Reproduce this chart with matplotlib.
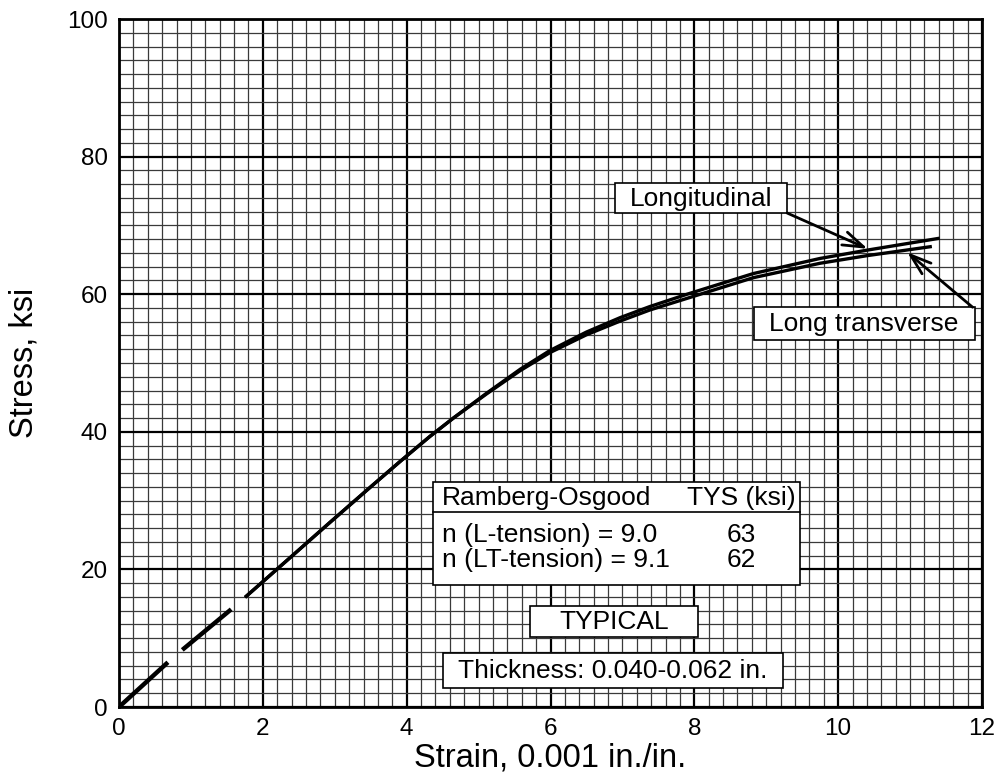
import numpy as np
import matplotlib
matplotlib.use("Agg")
import matplotlib.pyplot as plt
from matplotlib.patches import Rectangle

plt.rcParams['font.family'] = ['Liberation Sans', 'DejaVu Sans']

# ---- data ----
# dashed initial (elastic) portion, shared by both curves
dash_strain = [0.0, 0.68, np.nan, 0.88, 1.56]
dash_stress = [0.0, 6.5, np.nan, 8.3, 14.2]

# Longitudinal (upper curve)
L_strain = [1.77, 2.40, 2.93, 3.50, 3.91, 4.32, 4.65, 5.11, 5.58, 5.99, 6.50, 6.97, 7.38, 7.90, 8.82, 9.75, 10.40, 11.39]
L_stress = [16.1, 21.9, 26.8, 32.0, 35.7, 39.3, 42.0, 45.6, 49.1, 51.8, 54.5, 56.6, 58.2, 60.0, 63.0, 65.2, 66.4, 68.1]

# Long transverse (lower curve)
LT_strain = [1.77, 2.40, 2.93, 3.50, 3.91, 4.32, 4.65, 5.11, 5.58, 5.99, 6.50, 6.97, 7.38, 7.90, 8.82, 9.75, 10.40, 11.28]
LT_stress = [16.1, 21.9, 26.8, 32.0, 35.7, 39.3, 42.0, 45.5, 48.9, 51.5, 54.1, 56.1, 57.7, 59.4, 62.4, 64.5, 65.6, 66.9]

x_ticks = [0, 2, 4, 6, 8, 10, 12]
y_ticks = [0, 20, 40, 60, 80, 100]

table_rows = [("n (L-tension) = 9.0", "63"), ("n (LT-tension) = 9.1", "62")]

# ---- figure ----
fig = plt.figure(figsize=(10, 7.83), dpi=100)
W, H = 1000, 783
ax = fig.add_axes([119 / W, 1 - 707 / H, (982 - 119) / W, (707 - 19) / H])
ax.set_xlim(0, 12)
ax.set_ylim(0, 100)

ax.set_xticks(x_ticks)
ax.set_yticks(y_ticks)
ax.set_xticks(np.arange(0, 12.001, 0.2), minor=True)
ax.set_yticks(np.arange(0, 100.001, 2), minor=True)
ax.grid(which='minor', color='#3a3a3a', lw=0.9, zorder=0)
ax.grid(which='major', color='black', lw=1.6, zorder=0)
ax.set_axisbelow(True)
ax.tick_params(which='both', length=0, labelsize=17.5, pad=8)
for s in ax.spines.values():
    s.set_linewidth(2)
    s.set_color('black')

ax.set_xlabel("Strain, 0.001 in./in.", fontsize=23.5, labelpad=2)
ax.set_ylabel("Stress, ksi", fontsize=23.5, labelpad=20)

# curves
ax.plot(dash_strain, dash_stress, color='black', lw=3.2, solid_capstyle='butt', zorder=3)
ax.plot(L_strain, L_stress, color='black', lw=2.4, zorder=3)
ax.plot(LT_strain, LT_stress, color='black', lw=2.4, zorder=3)

def box(x0, x1, y0, y1):
    ax.add_patch(Rectangle((x0, y0), x1 - x0, y1 - y0, facecolor='white',
                           edgecolor='black', lw=1.2, zorder=4))

arrow_style = dict(arrowstyle='->,head_length=1.5,head_width=0.5', lw=2, color='black',
                   shrinkA=0, shrinkB=0)

# label boxes with arrows
box(6.90, 9.29, 71.8, 76.1)
ax.text(8.09, 73.9, "Longitudinal", fontsize=19, ha='center', va='center', zorder=5)
ax.annotate("", xy=(10.41, 66.6), xytext=(9.29, 71.8), arrowprops=arrow_style, zorder=5)

box(8.83, 11.90, 53.3, 58.1)
ax.text(10.36, 55.7, "Long transverse", fontsize=19, ha='center', va='center', zorder=5)
ax.annotate("", xy=(10.96, 66.1), xytext=(11.87, 58.1), arrowprops=arrow_style, zorder=5)

# Ramberg-Osgood table
box(4.37, 9.47, 17.7, 32.7)
ax.plot([4.37, 9.47], [28.3, 28.3], color='black', lw=1.2, zorder=5)
ax.text(4.49, 30.4, "Ramberg-Osgood", fontsize=19, ha='left', va='center', zorder=5)
ax.text(7.90, 30.4, "TYS (ksi)", fontsize=19, ha='left', va='center', zorder=5)
row_y = [25.0, 21.4]
for (lab, val), yy in zip(table_rows, row_y):
    ax.text(4.49, yy, lab, fontsize=19, ha='left', va='center', zorder=5)
    ax.text(8.65, yy, val, fontsize=19, ha='center', va='center', zorder=5)

box(5.71, 8.05, 10.2, 14.7)
ax.text(6.88, 12.4, "TYPICAL", fontsize=19, ha='center', va='center', zorder=5)

box(4.51, 9.23, 2.76, 7.84)
ax.text(6.87, 5.3, "Thickness: 0.040-0.062 in.", fontsize=19, ha='center', va='center', zorder=5)

fig.savefig("out.png", dpi=100)
